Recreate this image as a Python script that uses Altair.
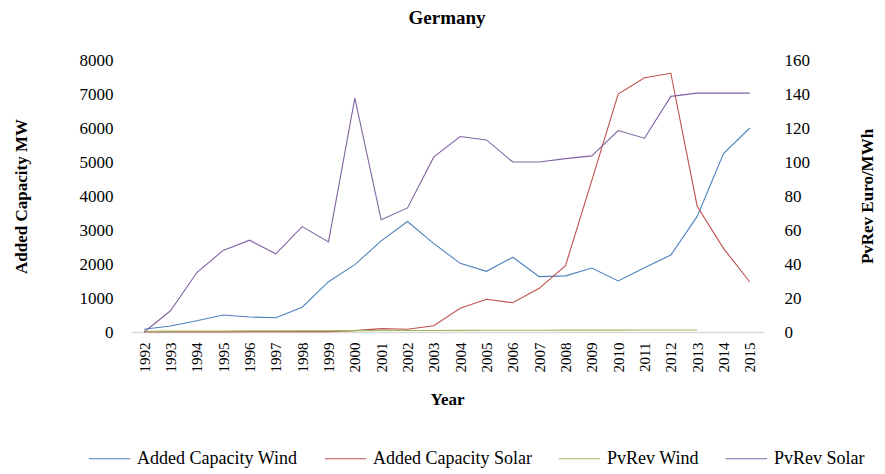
import altair as alt
import pandas as pd

years = [str(y) for y in range(1992, 2016)]
added_wind = [80, 175, 330, 500, 440, 420, 730, 1480, 1980, 2680, 3250, 2600,
              2020, 1785, 2200, 1630, 1650, 1880, 1500, 1890, 2265, 3400, 5250, 6000]
added_solar = [2, 3, 5, 5, 10, 10, 10, 12, 40, 100, 80, 185,
               700, 965, 860, 1285, 1950, 4460, 7000, 7480, 7610, 3700, 2460, 1470]
pvrev_wind = [20, 25, 28, 30, 32, 34, 36, 38, 40, 42, 44, 46,
              48, 50, 52, 53, 54, 55, 56, 57, 58, 60, None, None]
pvrev_solar = [0, 12.5, 35, 48, 54, 46, 62, 53, 137.6, 66, 73, 103,
               115, 113, 100, 100, 102, 103.6, 118.5, 114, 138.6, 140.5, 140.5, 140.5]

series = ["Added Capacity Wind", "Added Capacity Solar", "PvRev Wind", "PvRev Solar"]
colors = ["#4F81BD", "#C0504D", "#9BBB59", "#8064A2"]

rows = []
for name, vals in zip(series, [added_wind, added_solar, pvrev_wind, pvrev_solar]):
    for y, v in zip(years, vals):
        if v is not None:
            rows.append({"Year": y, "Series": name, "Value": v})
df = pd.DataFrame(rows)

FONT = "Liberation Serif"

color = alt.Color(
    "Series:N",
    scale=alt.Scale(domain=series, range=colors),
    sort=series,
    legend=alt.Legend(
        title=None, orient="none", direction="horizontal",
        legendX=-43, legendY=377,
        symbolType="stroke", symbolSize=1700, symbolStrokeWidth=1.2,
        labelFont=FONT, labelFontSize=18, labelColor="#000000",
        labelLimit=400, columnPadding=24, labelOffset=6,
    ),
)

x = alt.X(
    "Year:O",
    sort=years,
    scale=alt.Scale(type="point", padding=0.5, domain=years),
    axis=alt.Axis(
        title="Year", labelAngle=270, ticks=False, domainColor="#D9D9D9",
        domainWidth=1.5, labelFontSize=15, labelPadding=10, titlePadding=19,
    ),
)

left = alt.Chart(df).transform_filter(
    alt.FieldOneOfPredicate(field="Series", oneOf=series[:3])
).mark_line(strokeWidth=1.1).encode(
    x=x,
    y=alt.Y(
        "Value:Q",
        scale=alt.Scale(domain=[0, 8000], nice=False),
        axis=alt.Axis(
            title="Added Capacity MW", values=list(range(0, 8001, 1000)),
            format="d", ticks=False, domain=False, grid=False, labelPadding=18,
            labelFontSize=17, titlePadding=49,
        ),
    ),
    color=color,
    detail="Series:N",
)

right = alt.Chart(df).transform_filter(
    alt.datum.Series == "PvRev Solar"
).mark_line(strokeWidth=1.1).encode(
    x=x,
    y=alt.Y(
        "Value:Q",
        scale=alt.Scale(domain=[0, 160], nice=False),
        axis=alt.Axis(
            title="PvRev Euro/MWh", orient="right", titleAngle=270,
            values=list(range(0, 161, 20)), ticks=False, domain=False,
            grid=False, labelPadding=21, labelFontSize=17, titlePadding=67,
        ),
    ),
    color=color,
)

chart = alt.layer(left, right).resolve_scale(y="independent").properties(
    width=632,
    height=272,
    title=alt.TitleParams("Germany", font=FONT, fontSize=19, fontWeight="bold",
                          color="#000000", offset=23, anchor="middle"),
    autosize=alt.AutoSizeParams(type="none"),
    padding={"left": 123, "top": 52, "right": 114, "bottom": 141},
).configure_axis(
    labelFont=FONT, titleFont=FONT, labelColor="#000000", titleColor="#000000",
    titleFontSize=17, titleFontWeight="bold",
).configure_view(stroke=None)

chart.save("out.html", embed_options={"renderer": "svg", "actions": False})
